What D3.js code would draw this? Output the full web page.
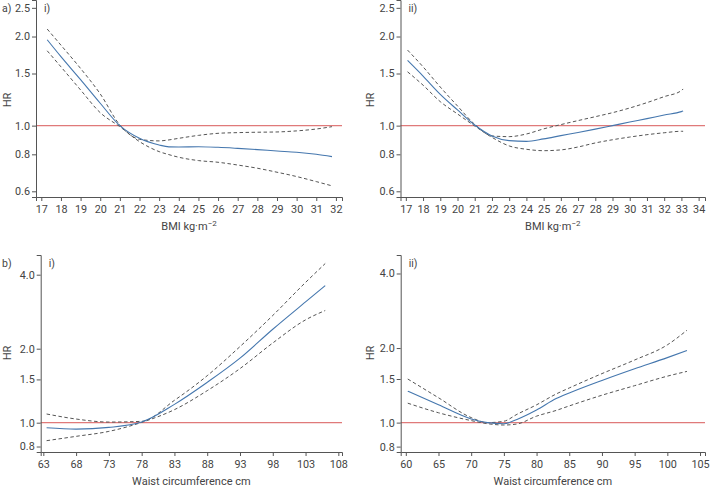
<!DOCTYPE html>
<html><head><meta charset="utf-8">
<script src="https://cdn.jsdelivr.net/npm/d3@7"></script>
<style>
body{margin:0;background:#fff;}
svg text{font-family:"Roboto","Liberation Sans",sans-serif;fill:#444;}
</style></head><body>
<svg id="c" width="710" height="488"></svg>
<script>
// Panel a-i : BMI (group i)
const aiX = [17.3,18,19,20,21,22,23,23.5,24,25,26,27,28,29,30,31,31.8];
const aiHR = [1.95,1.71,1.43,1.19,1.0,0.906,0.86,0.848,0.847,0.849,0.845,0.838,0.83,0.821,0.813,0.80,0.786];
const aiUp = [2.12,1.87,1.56,1.28,1.005,0.899,0.888,0.895,0.906,0.927,0.942,0.947,0.95,0.952,0.96,0.974,0.992];
const aiLo = [1.79,1.58,1.32,1.106,0.992,0.883,0.817,0.798,0.782,0.762,0.752,0.736,0.718,0.696,0.673,0.647,0.626];
// Panel a-ii : BMI (group ii)
const aiiX = [17.1,18,19,20,21,22,23,24,25,26,27,28,29,30,31,32,33,33.1];
const aiiHR = [1.66,1.47,1.276,1.13,1.005,0.923,0.89,0.885,0.902,0.925,0.948,0.973,1.0,1.028,1.056,1.086,1.115,1.12];
const aiiUp = [1.80,1.58,1.35,1.165,1.01,0.923,0.918,0.937,0.975,1.008,1.04,1.072,1.106,1.147,1.196,1.253,1.313,1.33];
const aiiLo = [1.52,1.37,1.205,1.095,0.997,0.913,0.854,0.832,0.823,0.828,0.847,0.874,0.896,0.915,0.932,0.946,0.957,0.957];
// Panel b-i : waist (group i)
const biX = [63.5,68,73,78,83,88,93,98,103,106];
const biHR = [0.954,0.942,0.957,1.006,1.187,1.459,1.83,2.40,3.10,3.61];
const biUp = [1.085,1.035,1.006,1.013,1.233,1.553,2.04,2.73,3.72,4.44];
const biLo = [0.845,0.88,0.922,1.003,1.13,1.35,1.66,2.11,2.62,2.86];
// Panel b-ii : waist (group ii)
const biiX = [60.3,65,70,72.5,75,77,80,83,85,90,95,100,103];
const biiHR = [1.34,1.18,1.035,1.0,0.99,1.03,1.124,1.25,1.317,1.48,1.65,1.83,1.956];
const biiUp = [1.50,1.26,1.048,1.0,1.013,1.08,1.18,1.305,1.38,1.577,1.79,2.06,2.36];
const biiLo = [1.198,1.096,1.019,0.99,0.978,0.987,1.062,1.12,1.168,1.29,1.41,1.54,1.61];

const bmiTicksI = d3.range(17,33);
const bmiTicksII = d3.range(17,35);
const waistTicksI = [63,68,73,78,83,88,93,98,103,108];
const waistTicksII = [60,65,70,75,80,85,90,95,100,105];
const hrTicksA = [0.6,0.8,1.0,1.5,2.0,2.5];
const hrTicksB = [0.8,1.0,1.5,2.0,4.0];

const svg = d3.select("#c");

function panel(o){
  const g = svg.append("g");
  const x = d3.scaleLinear().domain(o.xd).range([o.left,o.right]);
  const y = d3.scaleLog().domain(o.yd).range([o.bottom,o.top]);
  g.append("line").attr("x1",o.left).attr("x2",o.right).attr("y1",y(1)).attr("y2",y(1))
    .attr("stroke","#e07a7a").attr("stroke-width",1.3);
  const xa = g.append("g").attr("transform",`translate(0,${o.bottom})`)
    .call(d3.axisBottom(x).tickValues(o.xt).tickFormat(d3.format("d")).tickSizeOuter(0).tickSize(4).tickPadding(4));
  const ya = g.append("g").attr("transform",`translate(${o.left},0)`)
    .call(d3.axisLeft(y).tickValues(o.yt).tickFormat(d3.format(".1f")).tickSizeOuter(0).tickSize(4).tickPadding(2));
  [xa,ya].forEach(a=>{
    a.select(".domain").attr("stroke","#555").attr("stroke-width",1);
    a.selectAll(".tick line").attr("stroke","#555");
    a.selectAll(".tick text").attr("fill","#444").style("font-size","10.8px").style("font-family","Roboto, sans-serif");
  });
  const line = d3.line().x((d,i)=>x(o.xs[i])).y(d=>y(d)).curve(d3.curveMonotoneX);
  g.append("path").attr("d",line(o.up)).attr("fill","none").attr("stroke","#555").attr("stroke-width",1).attr("stroke-dasharray","3.5,2.5");
  g.append("path").attr("d",line(o.lo)).attr("fill","none").attr("stroke","#555").attr("stroke-width",1).attr("stroke-dasharray","3.5,2.5");
  g.append("path").attr("d",line(o.hr)).attr("fill","none").attr("stroke","#4577ae").attr("stroke-width",1.1);
  g.append("text").attr("transform",`translate(${o.hrx},${o.hry}) rotate(-90)`).attr("text-anchor","middle")
    .style("font-size","11px").text("HR");
  const t = g.append("text").attr("x",(o.left+o.right)/2).attr("y",o.titleY).attr("text-anchor","middle").style("font-size","11px");
  if(o.bmi){ t.text("BMI kg·m"); t.append("tspan").attr("dy",-4).style("font-size","8px").text("−2"); }
  else t.text("Waist circumference cm");
  g.append("text").attr("x",o.left+8).attr("y",o.tagY).style("font-size","10.5px").text(o.sub);
  if(o.tag) g.append("text").attr("x",2).attr("y",o.tagY).style("font-size","10.5px").text(o.tag);
}

panel({left:36,right:342,top:0,bottom:197,xd:[16.73,32.31],yd:[0.574,2.657],xt:bmiTicksI,yt:hrTicksA,
  xs:aiX,hr:aiHR,up:aiUp,lo:aiLo,hrx:11,hry:100,titleY:230,tagY:12,sub:"i)",tag:"a)",bmi:true});
panel({left:400.5,right:705,top:0,bottom:197,xd:[16.69,34.37],yd:[0.574,2.657],xt:bmiTicksII,yt:hrTicksA,
  xs:aiiX,hr:aiiHR,up:aiiUp,lo:aiiLo,hrx:374,hry:100,titleY:230,tagY:12,sub:"ii)",bmi:true});
panel({left:40.7,right:342,top:255,bottom:452,xd:[62.6,108.56],yd:[0.760,4.81],xt:waistTicksI,yt:hrTicksB,
  xs:biX,hr:biHR,up:biUp,lo:biLo,hrx:11,hry:353,titleY:485,tagY:267,sub:"i)",tag:"b)"});
panel({left:400.7,right:705,top:255,bottom:452,xd:[59.22,105.76],yd:[0.761,4.75],xt:waistTicksII,yt:hrTicksB,
  xs:biiX,hr:biiHR,up:biiUp,lo:biiLo,hrx:374,hry:353,titleY:485,tagY:267,sub:"ii)"});
</script>
</body></html>
